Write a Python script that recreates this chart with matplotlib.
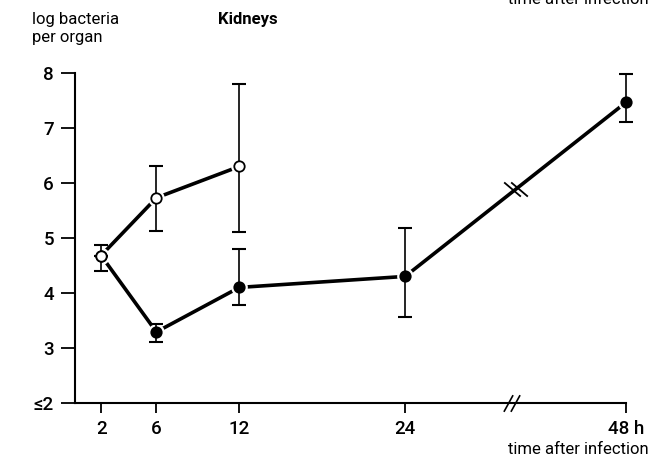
import numpy as np
import matplotlib
matplotlib.use("Agg")
import matplotlib.pyplot as plt

plt.rcParams['font.family'] = ['Roboto', 'DejaVu Sans']
plt.rcParams['font.weight'] = 500

# data (hours after infection, log bacteria per organ)
hours_open = [2, 6, 12]
mean_open = [4.68, 5.73, 6.30]
low_open = [4.39, 5.13, 5.10]
high_open = [4.88, 6.31, 7.80]

hours_filled = [2, 6, 12, 24, 48]
mean_filled = [4.68, 3.29, 4.10, 4.30, 7.47]
low_filled = [4.68, 3.11, 3.78, 3.56, 7.10]
high_filled = [4.68, 3.44, 4.80, 5.18, 7.98]

xtick_hours = [2, 6, 12, 24, 48]
xtick_labels = ['2', '6', '12', '24', '48 h']
ytick_vals = [2, 3, 4, 5, 6, 7, 8]
ytick_labels = ['≤2', '3', '4', '5', '6', '7', '8']

BREAK_AT = 24      # axis is compressed after 24 h
BREAK_HOUR = 36.0  # where the // sits


def pos(h):
    h = np.asarray(h, dtype=float)
    return np.where(h <= BREAK_AT, h, BREAK_AT + (h - BREAK_AT) * 16 / 24)


fig = plt.figure(figsize=(6.51, 4.62), dpi=100)
ax = fig.add_axes([0.115, 0.128, 0.847, 0.714])


def series(hrs, mean, lo, hi, face):
    x = pos(hrs)
    m = np.array(mean)
    ax.plot(x, m, color='black', lw=2.6, zorder=2, solid_capstyle='butt',
            clip_on=False)
    ax.plot(x, m, 'o', ms=11, color='white', mec='white', zorder=3,
            clip_on=False)
    yerr = [m - np.array(lo), np.array(hi) - m]
    eb = ax.errorbar(x, m, yerr=yerr, fmt='none', ecolor='black',
                     elinewidth=1.2, capsize=5, capthick=1.5, zorder=4)
    for art in eb.get_children():
        art.set_clip_on(False)
    ax.plot(x, m, 'o', ms=7.5, mfc=face, mec='black', mew=1.3, zorder=5,
            clip_on=False)


series(hours_filled, mean_filled, low_filled, high_filled, 'black')
series(hours_open, mean_open, low_open, high_open, 'white')

# break marks
bx = float(pos(BREAK_HOUR))
by = np.interp(bx, pos(hours_filled), mean_filled)
for dx in (-0.25, 0.25):
    ax.plot([bx + dx], [by], marker=[(-1, 0.85), (1, -0.85)], ms=12, mew=1.3,
            color='black', zorder=6, clip_on=False)
for dx in (-0.25, 0.25):
    ax.plot([bx - 0.3 + dx], [2], marker=[(-0.55, -1), (0.55, 1)], ms=12,
            mew=1.2, color='black', zorder=6, clip_on=False)

ax.set_xlim(0.1, 40)
ax.set_ylim(2, 8)
ax.spines['top'].set_visible(False)
ax.spines['right'].set_visible(False)
ax.spines['left'].set_linewidth(1.5)
ax.spines['bottom'].set_linewidth(1.5)

ax.set_xticks(pos(xtick_hours))
ax.set_xticklabels(xtick_labels)
ax.set_yticks(ytick_vals)
ax.set_yticklabels(ytick_labels)
ax.tick_params(axis='x', direction='out', length=7, width=1.3, pad=5,
               labelsize=13.5)
ax.tick_params(axis='y', direction='out', length=10, width=1.3, pad=5,
               labelsize=13.5)

fig.text(0.049, 0.975, 'log bacteria\nper organ', fontsize=12, va='top',
         ha='left', linespacing=1.25, fontweight='normal')
fig.text(0.335, 0.975, 'Kidneys', fontsize=12, fontweight='bold', va='top',
         ha='left')
fig.text(0.997, 0.028, 'time after infection', fontsize=12, ha='right',
         va='center', fontweight='normal')
fig.text(0.997, 1.0, 'time after infection', fontsize=12, ha='right',
         va='center', fontweight='normal')

fig.savefig('out.png', dpi=100)
